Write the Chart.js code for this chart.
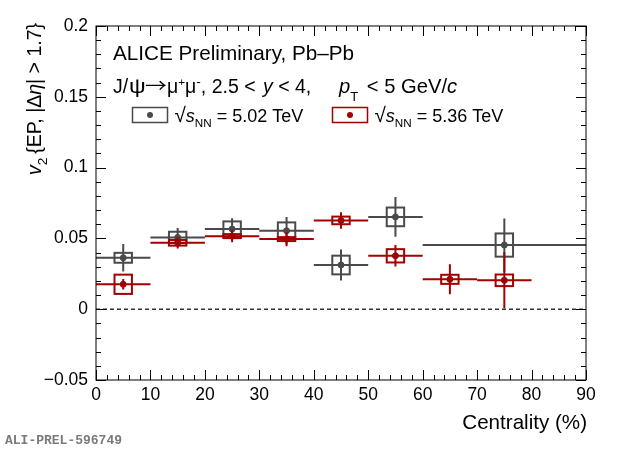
<!DOCTYPE html>
<html>
<head>
<meta charset="utf-8">
<script src="https://cdn.jsdelivr.net/npm/chart.js@4.4.0/dist/chart.umd.min.js"></script>
<style>
  body { margin: 0; background: #fff; }
  #wrap { width: 620px; height: 449px; }
</style>
</head>
<body>
<div id="wrap"><canvas id="v2Chart" width="620" height="449"></canvas></div>
<script>
// sqrt(sNN) = 5.02 TeV
const centLo502 = [0, 10, 20, 30, 40, 50, 60];
const centHi502 = [10, 20, 30, 40, 50, 60, 90];
const centMid502 = [5, 15, 25, 35, 45, 55, 75];
const v2_502 = [0.0363, 0.0507, 0.0566, 0.0554, 0.0312, 0.0652, 0.0453];
const stat502 = [0.0097, 0.0067, 0.0076, 0.0097, 0.0110, 0.0140, 0.0188];
const syst502 = [0.0035, 0.0040, 0.0054, 0.0059, 0.0066, 0.0066, 0.0082];

// sqrt(sNN) = 5.36 TeV
const centLo536 = [0, 10, 20, 30, 40, 50, 60, 70];
const centHi536 = [10, 20, 30, 40, 50, 60, 70, 80];
const centMid536 = [5, 15, 25, 35, 45, 55, 65, 75];
const v2_536 = [0.0176, 0.0469, 0.0516, 0.0495, 0.0627, 0.0377, 0.0211, 0.0204];
const stat536 = [0.0037, 0.0040, 0.0044, 0.0050, 0.0058, 0.0076, 0.0106, 0.0198];
const syst536 = [0.0068, 0.0020, 0.0014, 0.0014, 0.0027, 0.0047, 0.0032, 0.0041];

const xTicks = [0, 10, 20, 30, 40, 50, 60, 70, 80, 90];
const yTicks = [-0.05, 0, 0.05, 0.1, 0.15, 0.2];

const GRAY = '#4a4a4a';
const RED = '#a30000';
const FONT = '"Liberation Sans", Arial, Helvetica, sans-serif';
const SYM = '"Noto Sans CJK SC", "DejaVu Sans", sans-serif';
const BOX_HALF = 1.6; // syst box half width, in centrality units

// draws a list of text pieces (italic, sub/superscript) one after another
// p.x forces a start position, p.sx stretches a glyph horizontally
function drawRich(ctx, parts, x, y, size, align) {
  const fontOf = p => (p.it ? 'italic ' : '') + (size * (p.s || 1)) + 'px ' + (p.f || FONT);
  let total = 0;
  parts.forEach(p => { ctx.font = fontOf(p); p.w = ctx.measureText(p.t).width * (p.sx || 1); total += p.w + (p.gap || 0); });
  let cx = align === 'right' ? x - total : x;
  ctx.textAlign = 'left';
  ctx.textBaseline = 'alphabetic';
  parts.forEach(p => {
    if (p.x !== undefined) cx = p.x;
    ctx.font = fontOf(p);
    ctx.save();
    ctx.translate(cx, y + (p.dy || 0) * size);
    ctx.scale(p.sx || 1, 1);
    ctx.fillText(p.t, 0, 0);
    ctx.restore();
    cx += p.w + (p.gap || 0);
  });
  return cx;
}

const errorBars = {
  id: 'errorBars',
  beforeDatasetDraw(chart, args) {
    const ds = chart.data.datasets[args.index];
    const { ctx, scales: { x, y } } = chart;
    ctx.save();
    ctx.strokeStyle = ds.pointBackgroundColor;
    ctx.lineWidth = 2;
    ds.data.forEach((p, i) => {
      const px = x.getPixelForValue(p.x);
      const py = y.getPixelForValue(p.y);
      // centrality bin width
      ctx.beginPath();
      ctx.moveTo(x.getPixelForValue(ds.lo[i]), py);
      ctx.lineTo(x.getPixelForValue(ds.hi[i]), py);
      // statistical
      ctx.moveTo(px, y.getPixelForValue(p.y - ds.stat[i]));
      ctx.lineTo(px, y.getPixelForValue(p.y + ds.stat[i]));
      ctx.stroke();
      // systematic box
      const bx0 = x.getPixelForValue(p.x - BOX_HALF);
      const bx1 = x.getPixelForValue(p.x + BOX_HALF);
      const by0 = y.getPixelForValue(p.y + ds.syst[i]);
      const by1 = y.getPixelForValue(p.y - ds.syst[i]);
      ctx.strokeRect(bx0, by0, bx1 - bx0, by1 - by0);
    });
    ctx.restore();
  }
};

const frameAndText = {
  id: 'frameAndText',
  beforeDatasetsDraw(chart) {
    const { ctx, scales: { x, y } } = chart;
    // dashed zero line
    ctx.save();
    ctx.strokeStyle = '#333';
    ctx.lineWidth = 1.6;
    ctx.setLineDash([4, 3]);
    ctx.beginPath();
    ctx.moveTo(x.getPixelForValue(0), y.getPixelForValue(0));
    ctx.lineTo(x.getPixelForValue(90), y.getPixelForValue(0));
    ctx.stroke();
    ctx.restore();
  },
  afterDraw(chart) {
    const { ctx, chartArea: a, scales: { x, y } } = chart;
    ctx.save();
    ctx.strokeStyle = '#000';
    ctx.lineWidth = 1;
    ctx.strokeRect(a.left, a.top, a.right - a.left, a.bottom - a.top);
    ctx.beginPath();
    for (let v = 0; v <= 90; v += 2) {
      const len = v % 10 === 0 ? 10 : 5;
      const px = Math.round(x.getPixelForValue(v)) + 0.5;
      ctx.moveTo(px, a.bottom); ctx.lineTo(px, a.bottom - len);
      ctx.moveTo(px, a.top); ctx.lineTo(px, a.top + len);
    }
    for (let k = -5; k <= 20; k++) {
      const len = k % 5 === 0 ? 10 : 5;
      const py = Math.round(y.getPixelForValue(k / 100)) + 0.5;
      ctx.moveTo(a.left, py); ctx.lineTo(a.left + len, py);
      ctx.moveTo(a.right, py); ctx.lineTo(a.right - len, py);
    }
    ctx.stroke();

    ctx.fillStyle = '#000';
    // axis titles
    drawRich(ctx, [{ t: 'Centrality (%)' }], a.right + 1, 429, 20.6, 'right');
    ctx.save();
    ctx.translate(41, 23);
    ctx.rotate(-Math.PI / 2);
    drawRich(ctx, [
      { t: 'v', it: true },
      { t: '2', s: 0.7, dy: 0.3, gap: 4 },
      { t: '{EP, |Δ' },
      { t: 'η', it: true },
      { t: '| > 1.7}' }
    ], 0, 0, 19.5, 'right');
    ctx.restore();

    // labels inside the frame
    drawRich(ctx, [{ t: 'ALICE Preliminary, Pb–Pb' }], 113, 60, 20.7);
    drawRich(ctx, [
      { t: 'J/', x: 113 },
      { t: 'ψ', x: 129, sx: 1.2 },
      { t: '→', x: 145, f: SYM, sx: 1.12 },
      { t: 'μ', x: 167 },
      { t: '+', s: 0.6, dy: -0.35 },
      { t: 'μ' },
      { t: '-', s: 0.7, dy: -0.35 },
      { t: ', 2.5 < ' },
      { t: 'y', it: true, x: 263 },
      { t: ' < 4,' }
    ], 113, 92.5, 19.5);
    drawRich(ctx, [
      { t: 'p', it: true },
      { t: 'T', s: 0.65, dy: 0.4, gap: 3 },
      { t: ' < 5 GeV/' },
      { t: 'c', it: true }
    ], 339, 92.5, 20.2);

    // legend
    const entries = [
      { color: GRAY, x: 132.5, text: '5.02 TeV' },
      { color: RED, x: 332.5, text: '5.36 TeV' }
    ];
    entries.forEach(e => {
      ctx.strokeStyle = e.color;
      ctx.lineWidth = 1.5;
      ctx.strokeRect(e.x, 107.5, 35, 15);
      ctx.fillStyle = e.color;
      ctx.beginPath();
      ctx.arc(e.x + 17.5, 115, 3, 0, Math.PI * 2);
      ctx.fill();
      ctx.fillStyle = '#000';
      drawRich(ctx, [
        { t: '√', s: 1.15, dy: 0.05 },
        { t: 's', it: true },
        { t: 'NN', s: 0.65, dy: 0.3 },
        { t: ' = ' + e.text }
      ], e.x + 42, 121.5, 18);
    });

    // preliminary id
    ctx.fillStyle = '#7a7a7a';
    ctx.font = 'bold 13px "Liberation Mono", "DejaVu Sans Mono", monospace';
    ctx.textAlign = 'left';
    ctx.fillText('ALI-PREL-596749', 5, 444);
    ctx.restore();
  }
};

const fmt = v => {
  const r = Math.round(v * 100) / 100;
  return r < 0 ? '\u2212' + String(-r) : String(r);
};

new Chart(document.getElementById('v2Chart'), {
  type: 'scatter',
  data: {
    datasets: [
      {
        label: '5.02 TeV',
        data: centMid502.map((c, i) => ({ x: c, y: v2_502[i] })),
        lo: centLo502, hi: centHi502, stat: stat502, syst: syst502,
        pointRadius: 3, pointBorderWidth: 1,
        pointBackgroundColor: GRAY, pointBorderColor: GRAY, borderColor: GRAY,
        order: 2
      },
      {
        label: '5.36 TeV',
        data: centMid536.map((c, i) => ({ x: c, y: v2_536[i] })),
        lo: centLo536, hi: centHi536, stat: stat536, syst: syst536,
        pointRadius: 3, pointBorderWidth: 1,
        pointBackgroundColor: RED, pointBorderColor: RED, borderColor: RED,
        order: 1
      }
    ]
  },
  options: {
    responsive: false,
    animation: false,
    events: [],
    layout: { padding: { top: 26, right: 34, left: 0, bottom: 0 } },
    plugins: { legend: { display: false }, tooltip: { enabled: false } },
    scales: {
      x: {
        type: 'linear', min: 0, max: 90,
        afterBuildTicks: s => { s.ticks = xTicks.map(v => ({ value: v })); },
        ticks: { color: '#000', font: { family: FONT, size: 17.5 }, padding: 5, maxRotation: 0, autoSkip: false },
        grid: { display: false, drawTicks: false },
        border: { display: false },
        afterFit: s => { s.height = 69; }
      },
      y: {
        type: 'linear', min: -0.05, max: 0.2,
        afterBuildTicks: s => { s.ticks = yTicks.map(v => ({ value: v })); },
        ticks: { color: '#000', font: { family: FONT, size: 17.5 }, padding: 8, callback: fmt },
        grid: { display: false, drawTicks: false },
        border: { display: false },
        afterFit: s => { s.width = 96; }
      }
    }
  },
  plugins: [errorBars, frameAndText]
});
</script>
</body>
</html>
